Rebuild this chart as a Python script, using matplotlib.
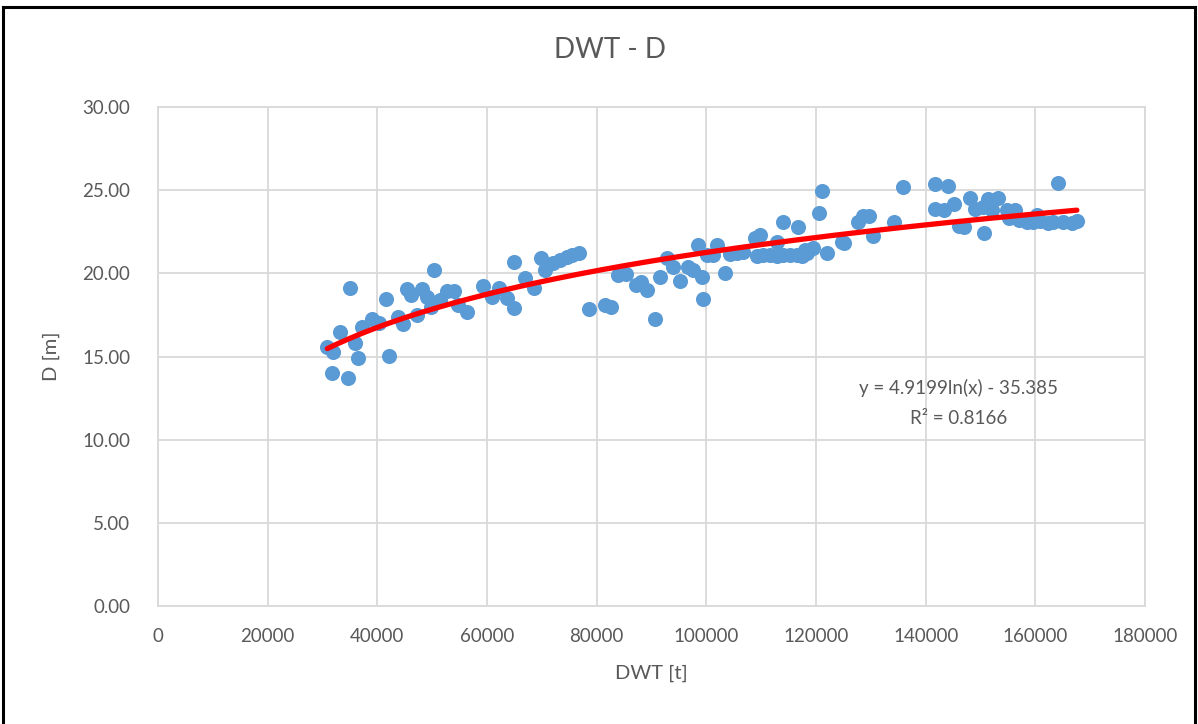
import matplotlib.pyplot as plt
import numpy as np
from matplotlib.lines import Line2D

# DWT [t] and draught D [m]
dwt = [30880, 31975, 31680, 34600, 33200, 35930, 36530, 35020, 37150, 38980,
       40310, 41590, 42080, 43830, 44740, 45470, 46150, 47300, 48100, 49010,
       49800, 50400, 51440, 52660, 53990, 54780, 56310, 59340, 60870, 62250,
       63600, 64990, 64990, 66940, 68640, 69810, 70590, 72100, 73320, 74550,
       75460, 76850, 78670, 81530, 82570, 83960, 90650, 85330, 87150, 88060,
       89140, 91560, 92790, 93990, 95210, 96730, 97640, 99170, 99460, 98550,
       100080, 101290, 101900, 103420, 104330, 105550, 106760, 108890, 109800, 110410,
       111630, 112850, 114060, 115280, 116500, 114060, 116790, 118330, 119530, 120620,
       121060, 121970, 124710, 125180, 127730, 128540, 129740, 130330, 134250, 135940,
       141720, 144040, 141670, 143310, 145150, 146000, 147000, 148110, 149020, 150540,
       151450, 153270, 150720, 152070, 154800, 156320, 155280, 157100, 158450, 159660,
       160280, 160880, 162280, 163300, 165130, 166660, 167570, 164220, 109170, 118000,
       112900, 117400]
draught = [15.59, 15.29, 14.00, 13.71, 16.46, 15.79, 14.89, 19.10, 16.76, 17.24,
           17.03, 18.44, 15.03, 17.36, 16.94, 19.04, 18.70, 17.50, 19.04, 18.60,
           17.99, 20.20, 18.40, 18.94, 18.94, 18.10, 17.69, 19.24, 18.60, 19.10,
           18.50, 17.90, 20.66, 19.74, 19.10, 20.94, 20.20, 20.60, 20.80, 21.00,
           21.10, 21.24, 17.84, 18.10, 17.96, 19.90, 17.24, 19.96, 19.30, 19.50,
           19.00, 19.76, 20.94, 20.40, 19.54, 20.40, 20.20, 19.80, 18.46, 21.70,
           21.10, 21.10, 21.70, 20.04, 21.16, 21.20, 21.30, 22.11, 22.30, 21.10,
           21.10, 21.90, 21.10, 21.10, 21.10, 23.10, 22.77, 21.20, 21.50, 23.65,
           24.95, 21.20, 21.90, 21.84, 23.10, 23.45, 23.45, 22.22, 23.10, 25.21,
           25.37, 25.25, 23.85, 23.83, 24.15, 22.82, 22.80, 24.55, 23.87, 24.00,
           24.45, 24.51, 22.44, 23.81, 23.81, 23.81, 23.31, 23.21, 23.10, 23.10,
           23.51, 23.15, 23.04, 23.10, 23.10, 23.04, 23.15, 25.45, 21.04, 21.40,
           21.05, 21.05]

# logarithmic trend line, coefficients as printed on the chart
coef_a = 4.9199
coef_b = -35.385
r_squared = 0.8166

txt = '#595959'
grid_col = '#D9D9D9'
plt.rcParams['font.family'] = ['Lato', 'DejaVu Sans']

fig = plt.figure(figsize=(11.98, 7.24), dpi=100)
ax = fig.add_axes([158 / 1198, 1 - 606 / 724, 987 / 1198, 499 / 724])

ax.scatter(dwt, draught, s=118, color='#5B9BD5', linewidths=0, zorder=3)

xs = np.linspace(min(dwt), max(dwt), 200)
ax.plot(xs, coef_a * np.log(xs) + coef_b, color='#FF0000', lw=3.8,
        solid_capstyle='round', zorder=4)

ax.text(146000, 13.1, f'y = {coef_a}ln(x) - {abs(coef_b)}', ha='center',
        va='center', fontsize=13.5, color=txt)
ax.text(146000, 11.3, f'R² = {r_squared}', ha='center', va='center',
        fontsize=13.5, color=txt)

ax.set_xlim(0, 180000)
ax.set_ylim(0, 30)
ax.set_xticks(range(0, 180001, 20000))
ax.set_yticks(range(0, 31, 5))
ax.set_yticklabels([f'{v:.2f}' for v in range(0, 31, 5)])
ax.grid(True, color=grid_col, lw=1.3)
ax.set_axisbelow(True)
for s in ax.spines.values():
    s.set_color(grid_col)
    s.set_linewidth(1.3)
ax.tick_params(length=0, labelsize=13.5, labelcolor=txt)
ax.tick_params(axis='x', pad=16)
ax.tick_params(axis='y', pad=20)

ax.set_xlabel('DWT [t]', fontsize=14.5, color=txt, labelpad=14)
ax.set_ylabel('D [m]', fontsize=14.5, color=txt, labelpad=16)
fig.text(610 / 1198, 1 - 50 / 724, 'DWT - D', ha='center', va='center',
         fontsize=20, color=txt)

# outer chart frame (bottom edge is cut off in the original)
frame = dict(color='black', lw=2.2, transform=fig.transFigure)
fig.add_artist(Line2D([3 / 1198, 3 / 1198], [0, 1 - 7 / 724], **frame))
fig.add_artist(Line2D([3 / 1198, 1195 / 1198], [1 - 7 / 724, 1 - 7 / 724], **frame))
fig.add_artist(Line2D([1195 / 1198, 1195 / 1198], [0, 1 - 7 / 724], **frame))

fig.savefig('out.png', dpi=100)
